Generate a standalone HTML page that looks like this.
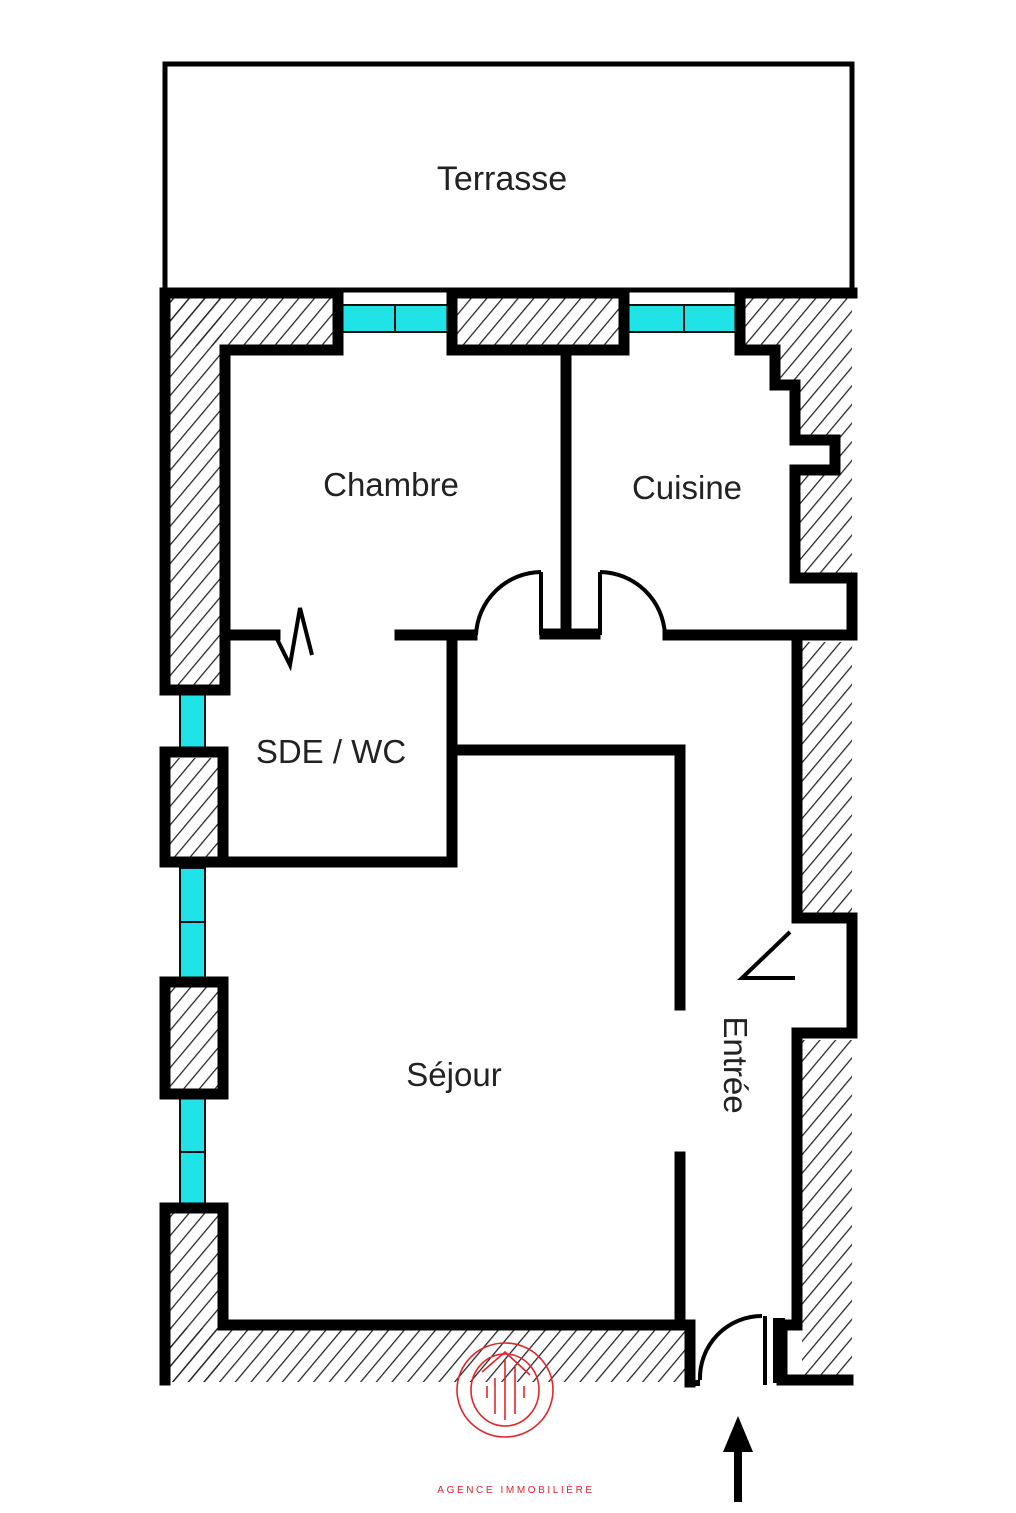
<!DOCTYPE html>
<html><head><meta charset="utf-8"><style>html,body{margin:0;padding:0;background:#fff}svg{display:block}</style></head>
<body>
<svg width="1016" height="1513" viewBox="0 0 1016 1513" xmlns="http://www.w3.org/2000/svg" font-family="Liberation Sans, sans-serif">
<defs>
<pattern id="h" width="12" height="12" patternUnits="userSpaceOnUse" patternTransform="rotate(40)">
<line x1="0" y1="0" x2="0" y2="12" stroke="#222" stroke-width="2.5"/>
</pattern>
</defs>
<rect x="165" y="64" width="687" height="226" fill="#fff" stroke="#000" stroke-width="5"/>
<text x="502" y="190" font-size="34" text-anchor="middle" fill="#222">Terrasse</text>

<g fill="url(#h)">
<rect x="170" y="298" width="165" height="48"/>
<rect x="170" y="298" width="52" height="392"/>
<rect x="452" y="298" width="172" height="48"/>
<rect x="740" y="298" width="112" height="48"/>
<polygon points="775,346 852,346 852,578 795,578 795,470 835,470 835,440 795,440 795,385 775,385"/>
<rect x="802" y="642" width="50" height="276"/>
<rect x="802" y="1040" width="50" height="340"/>
<rect x="170" y="758" width="50" height="102"/>
<rect x="170" y="985" width="50" height="108"/>
<rect x="170" y="1212" width="50" height="170"/>
<rect x="170" y="1328" width="515" height="54"/>
</g>

<g fill="#1fe3e6" stroke="#111" stroke-width="2">
<rect x="338" y="305" width="110" height="27"/>
<line x1="395" y1="305" x2="395" y2="332"/>
<rect x="628" y="305" width="110" height="27"/>
<line x1="684" y1="305" x2="684" y2="332"/>
<rect x="180" y="693" width="25" height="57"/>
<rect x="180" y="868" width="25" height="110"/>
<line x1="180" y1="922" x2="205" y2="922"/>
<rect x="180" y="1095" width="25" height="110"/>
<line x1="180" y1="1152" x2="205" y2="1152"/>
</g>

<g stroke="#000" stroke-width="11" fill="none" stroke-linecap="square">
<polyline points="338,350 338,293 165,293 165,690 225,690 225,350 338,350"/>
<rect x="452" y="293" width="172" height="57"/>
<polyline points="740,293 852,293"/>
<polyline points="740,293 740,350 775,350 775,385 795,385 795,440 835,440 835,470 795,470 795,578 852,578 852,635 668,635"/>
<rect x="165" y="752" width="58" height="110"/>
<rect x="165" y="982" width="58" height="112"/>
<polyline points="165,1380 165,1208 223,1208 223,1325 685,1325"/>
<line x1="566" y1="355" x2="566" y2="632"/>
<line x1="545" y1="634" x2="595" y2="634"/>
<line x1="225" y1="635" x2="275" y2="635"/>
<line x1="400" y1="635" x2="472" y2="635"/>
<polyline points="452,640 452,862 225,862"/>
<polyline points="458,750 680,750 680,1005"/>
<line x1="680" y1="1157" x2="680" y2="1325"/>
<polyline points="797,640 797,918 852,918 852,1033 797,1033 797,1325"/>
<line x1="690" y1="1325" x2="690" y2="1382"/>
<polyline points="790,1325 782,1325 782,1380 848,1380"/>
</g>
<line x1="779" y1="1318" x2="779" y2="1383" stroke="#000" stroke-width="12"/>
<line x1="687" y1="1383" x2="700" y2="1383" stroke="#000" stroke-width="6"/>

<g stroke="#000" stroke-width="4" fill="none">
<polyline points="275,635 290,665 300,608 312,655"/>
<line x1="541" y1="572" x2="541" y2="635"/>
<path d="M476,635 A66,66 0 0 1 541,572"/>
<line x1="600" y1="572" x2="600" y2="635"/>
<path d="M600,572 A66,66 0 0 1 665,635"/>
<path d="M700,1380 A62,62 0 0 1 762,1316"/>
<line x1="765" y1="1316" x2="765" y2="1385"/>
<polyline points="790,932 742,978 795,978"/>
</g>

<line x1="738" y1="1440" x2="738" y2="1502" stroke="#000" stroke-width="8"/>
<polygon points="738,1416 723,1452 753,1452" fill="#000"/>

<g fill="#222" text-anchor="middle">
<text x="391" y="496" font-size="33">Chambre</text>
<text x="687" y="499" font-size="33">Cuisine</text>
<text x="331" y="763" font-size="33">SDE / WC</text>
<text x="454" y="1086" font-size="33">Séjour</text>
<text transform="translate(724,1065) rotate(90)" font-size="33">Entrée</text>
</g>

<g stroke="#e0262a" fill="none" stroke-width="1.6">
<ellipse cx="505" cy="1390" rx="48" ry="47"/>
<ellipse cx="505" cy="1390" rx="34" ry="36"/>
<polyline points="482,1372 505,1352 530,1375"/>
<line x1="505" y1="1360" x2="505" y2="1420"/>
<line x1="495" y1="1378" x2="495" y2="1414"/>
<line x1="515" y1="1365" x2="515" y2="1414"/>
<line x1="487" y1="1386" x2="487" y2="1398"/>
<line x1="524" y1="1386" x2="524" y2="1398"/>
</g>
<text x="516" y="1493" font-size="10" fill="#e0262a" text-anchor="middle" letter-spacing="2.6">AGENCE IMMOBILIÈRE</text>
</svg>
</body></html>
